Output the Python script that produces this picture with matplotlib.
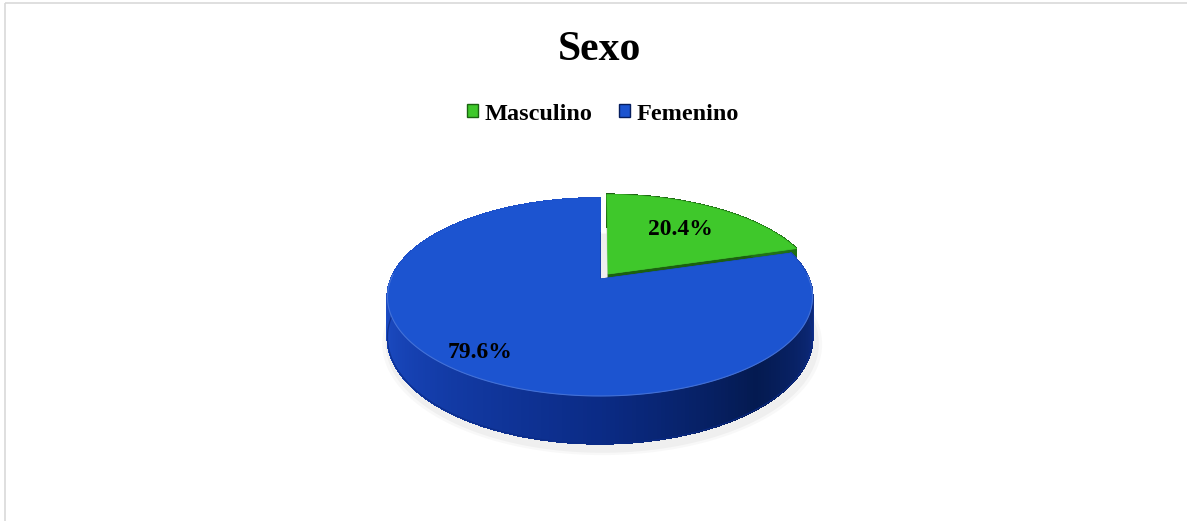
import numpy as np
import matplotlib
matplotlib.use('Agg')
from matplotlib import pyplot as plt
from matplotlib.patches import Polygon, Patch, Rectangle
from matplotlib.colors import to_rgb

# data
categories = ['Masculino', 'Femenino']
values = [20.4, 79.6]
labels = ['20.4%', '79.6%']
top_colors = ['#3fc82b', '#1c54d0']
title = 'Sexo'

# geometry of the 3d pie (pixel units)
cx, cy = 600, 279
R, Ry = 209, 95.7
k = 0.182
depth = 39
explode = [0.065, 0.0]
label_r = [0.65, 0.84]

plt.rcParams['font.family'] = ['Liberation Serif', 'DejaVu Serif']


def project(x, z, drop=0.0):
    w = 1 + k * z
    return cx + R * x / w, cy - (Ry * z - drop) / w


def blend(c1, c2, t):
    a = np.array(to_rgb(c1))
    b = np.array(to_rgb(c2))
    return tuple(a + (b - a) * t)


# side shading by angle (clockwise from 12 o'clock, degrees)
side_anchors = {
    0: [(0, '#1c6012'), (60, '#227318'), (90, '#1a6410')],
    1: [(60, '#1a3fa8'), (92, '#2148b0'), (105, '#0d2a7c'), (140, '#041a50'),
        (180, '#0b2b86'), (230, '#1540b0'), (265, '#1e4fc8'), (300, '#1e4fc8')],
}


def side_color(i, a):
    anchors = side_anchors[i]
    angs = [p[0] for p in anchors]
    if a <= angs[0]:
        return to_rgb(anchors[0][1])
    if a >= angs[-1]:
        return to_rgb(anchors[-1][1])
    for j in range(len(anchors) - 1):
        if angs[j] <= a <= angs[j + 1]:
            t = (a - angs[j]) / (angs[j + 1] - angs[j])
            return blend(anchors[j][1], anchors[j + 1][1], t)


fig = plt.figure(figsize=(11.87, 5.21), dpi=100)
ax = fig.add_axes([0, 0, 1, 1])
ax.set_xlim(0, 1187)
ax.set_ylim(521, 0)
ax.axis('off')

# frame
ax.add_patch(Rectangle((5, 3), 1200, 540, fill=False, edgecolor='#d9d9d9', lw=1.2))

# soft shadow below the pie
t_all = np.linspace(0, 2 * np.pi, 200)
for s, al in [(1.03, 0.05), (1.015, 0.07)]:
    pts = [project(s * np.sin(t) + 0.01, s * np.cos(t) - 0.02, depth + 3) for t in t_all]
    ax.add_patch(Polygon(pts, closed=True, facecolor='#808080', edgecolor='none', alpha=al, zorder=1))

total = sum(values)
starts = np.cumsum([0] + values[:-1]) / total * 360
ends = np.cumsum(values) / total * 360

z = 2  # drawing order
# back slice first (green), then front slice (blue)
for i in range(len(values)):
    a0, a1 = starts[i], ends[i]
    mid = np.radians((a0 + a1) / 2)
    ox, oz = explode[i] * np.sin(mid), explode[i] * np.cos(mid)
    angs = np.radians(np.linspace(a0, a1, 300))
    xs = ox + np.sin(angs)
    zs = oz + np.cos(angs)

    # radial faces
    for aa, col in [(np.radians(a0), '#cfcfcf' if i == 0 else '#16389a'),
                    (np.radians(a1), '#1b6010' if i == 0 else '#16389a')]:
        ex, ez = ox + np.sin(aa), oz + np.cos(aa)
        quad = [project(ox, oz), project(ex, ez), project(ex, ez, depth), project(ox, oz, depth)]
        ax.add_patch(Polygon(quad, closed=True, facecolor=col, edgecolor=col, lw=0.5, zorder=z))
    z += 1

    # outer side wall, back to front
    order = np.argsort(zs[:-1])[::-1]
    for j in order:
        quad = [project(xs[j], zs[j]), project(xs[j + 1], zs[j + 1]),
                project(xs[j + 1], zs[j + 1], depth), project(xs[j], zs[j], depth)]
        c = side_color(i, np.degrees(angs[j]))
        ax.add_patch(Polygon(quad, closed=True, facecolor=c, edgecolor=c, lw=0.8,
                             antialiased=False, zorder=z))
    z += 1
    # smooth bottom outline of the visible front wall
    front = [(x, zz) for x, zz in zip(xs, zs) if zz < 0.05]
    if front:
        pts = np.array([project(x, zz, depth) for x, zz in front])
        ax.plot(pts[:, 0], pts[:, 1], color=side_color(i, 180), lw=0.9, alpha=0.8, zorder=z)
    z += 1

    # top face
    top = [project(ox, oz)] + [project(x, zz) for x, zz in zip(xs, zs)]
    ax.add_patch(Polygon(top, closed=True, facecolor=top_colors[i], edgecolor=top_colors[i],
                         lw=0.5, zorder=z))
    z += 1

    # rim highlight on the front
    if front:
        pts = np.array([project(x, zz) for x, zz in front])
        ax.plot(pts[:, 0], pts[:, 1], color=blend(top_colors[i], '#ffffff', 0.25), lw=0.8,
                alpha=0.7, zorder=z)
    z += 1

    # data label
    lx, lz = ox + label_r[i] * np.sin(mid), oz + label_r[i] * np.cos(mid)
    px, py = project(lx, lz)
    ax.text(px, py, labels[i], ha='center', va='center', fontsize=17, fontweight='bold',
            color='black', zorder=50)

# title
ax.text(600, 50, title, ha='center', va='center', fontsize=30, fontweight='bold')

# legend
handles = [Patch(facecolor=top_colors[i], edgecolor=side_color(i, 150), label=categories[i])
           for i in range(len(categories))]
fig.legend(handles=handles, loc='center', bbox_to_anchor=(0.508, 1 - 114 / 521), ncol=2,
           frameon=False, prop={'family': 'Liberation Serif', 'weight': 'bold', 'size': 17.5},
           handlelength=0.45, handleheight=0.45, handletextpad=0.25, columnspacing=1.1)

fig.savefig('out.png', dpi=100)
